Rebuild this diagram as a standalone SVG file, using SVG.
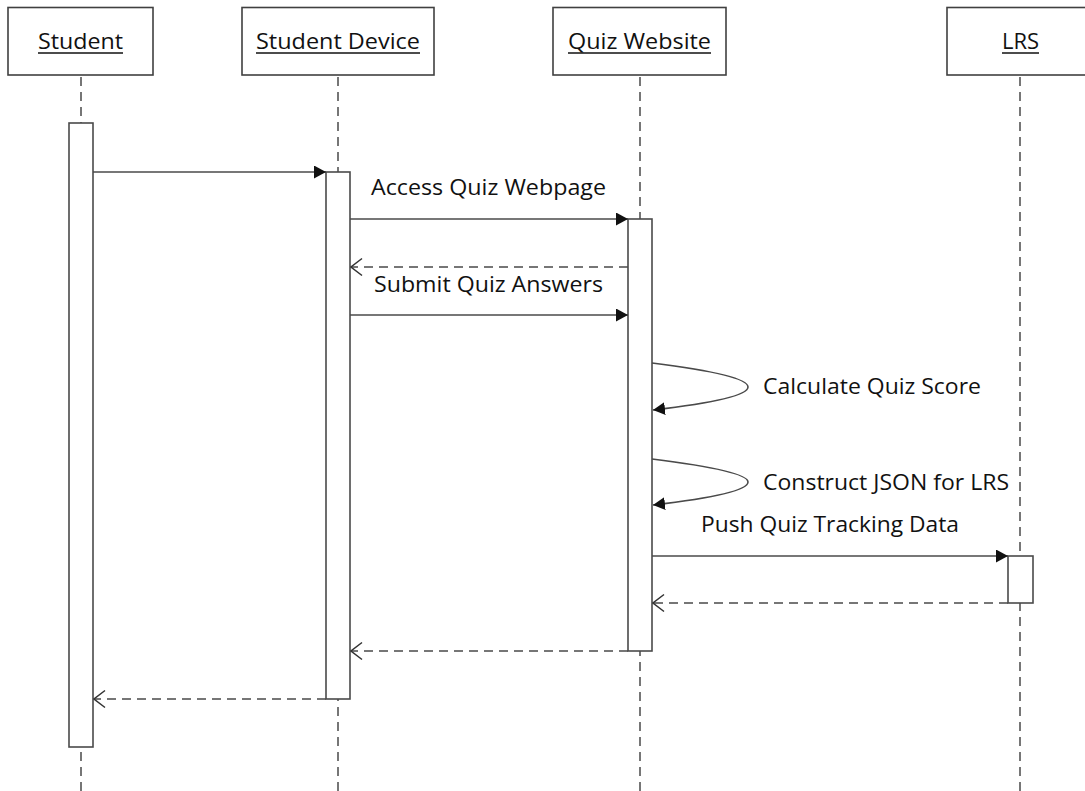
<svg xmlns="http://www.w3.org/2000/svg" width="1085" height="791" viewBox="0 0 1085 791">
  <style>
    .box { fill: #ffffff; stroke: #404040; stroke-width: 1.6; }
    .life { stroke: #4a4a4a; stroke-width: 1.5; stroke-dasharray: 9 6; fill: none; }
    .act { fill: #ffffff; stroke: #4a4a4a; stroke-width: 1.6; }
    .msg { stroke: #4a4a4a; stroke-width: 1.6; fill: none; }
    .ret { stroke: #4a4a4a; stroke-width: 1.6; fill: none; stroke-dasharray: 9 6; }
    .lbl { font-family: "Open Sans", "Liberation Sans", sans-serif; font-size: 22px; fill: #111111; }
    .ul { stroke: #111111; stroke-width: 1.5; }
  </style>
  <defs>
    <marker id="solid" viewBox="0 0 12 13" refX="12" refY="6.5" markerWidth="12" markerHeight="13" markerUnits="userSpaceOnUse" orient="auto">
      <path d="M0,0 L12,6.5 L0,13 Z" fill="#111111"/>
    </marker>
    <marker id="open" viewBox="0 0 13 20" refX="12" refY="10" markerWidth="13" markerHeight="20" markerUnits="userSpaceOnUse" orient="auto">
      <path d="M1,1.5 L12,10 L1,18.5" fill="none" stroke="#333333" stroke-width="1.5"/>
    </marker>
  </defs>
  <rect width="1085" height="791" fill="#ffffff"/>

  <!-- lifelines -->
  <g id="lifelines">
    <line class="life" x1="81" y1="77" x2="81" y2="791"/>
    <line class="life" x1="338" y1="77" x2="338" y2="791"/>
    <line class="life" x1="640" y1="77" x2="640" y2="791"/>
    <line class="life" x1="1020" y1="77" x2="1020" y2="791"/>
  </g>

  <!-- participants -->
  <g id="student">
    <rect class="box" x="8" y="7.5" width="145" height="67.5"/>
    <text class="lbl" x="38" y="49" textLength="85" lengthAdjust="spacingAndGlyphs">Student</text>
    <line class="ul" x1="38" y1="53" x2="123" y2="53"/>
    <rect class="act" x="69" y="123" width="24" height="624"/>
  </g>
  <g id="student-device">
    <rect class="box" x="242" y="7.5" width="192" height="67.5"/>
    <text class="lbl" x="256" y="49" textLength="164" lengthAdjust="spacingAndGlyphs">Student Device</text>
    <line class="ul" x1="256" y1="53" x2="420" y2="53"/>
    <rect class="act" x="326" y="172" width="24" height="527"/>
  </g>
  <g id="quiz-website">
    <rect class="box" x="553" y="7.5" width="173" height="67.5"/>
    <text class="lbl" x="568" y="49" textLength="143" lengthAdjust="spacingAndGlyphs">Quiz Website</text>
    <line class="ul" x1="568" y1="53" x2="711" y2="53"/>
    <rect class="act" x="628" y="219" width="24" height="432"/>
  </g>
  <g id="lrs">
    <rect class="box" x="947" y="7.5" width="146" height="67.5"/>
    <text class="lbl" x="1002" y="49" textLength="37" lengthAdjust="spacingAndGlyphs">LRS</text>
    <line class="ul" x1="1002" y1="53" x2="1039" y2="53"/>
    <rect class="act" x="1008" y="556" width="25" height="47"/>
  </g>

  <!-- messages -->
  <g id="connectors">
    <line class="msg" x1="93" y1="172" x2="326" y2="172" marker-end="url(#solid)"/>
    <line class="msg" x1="350" y1="219" x2="628" y2="219" marker-end="url(#solid)"/>
    <line class="ret" x1="628" y1="267" x2="351" y2="267" marker-end="url(#open)"/>
    <line class="msg" x1="350" y1="315" x2="628" y2="315" marker-end="url(#solid)"/>
    <path class="msg" d="M652,363 Q748,375 748,387 Q748,399 653,410" marker-end="url(#solid)"/>
    <path class="msg" d="M652,459 Q748,471 748,482 Q748,494 653,505" marker-end="url(#solid)"/>
    <line class="msg" x1="652" y1="556" x2="1008" y2="556" marker-end="url(#solid)"/>
    <line class="ret" x1="1008" y1="603" x2="653" y2="603" marker-end="url(#open)"/>
    <line class="ret" x1="628" y1="651" x2="351" y2="651" marker-end="url(#open)"/>
    <line class="ret" x1="326" y1="699" x2="94" y2="699" marker-end="url(#open)"/>
  </g>

  <!-- message labels -->
  <g id="labels">
    <text class="lbl" x="371" y="195" textLength="235" lengthAdjust="spacingAndGlyphs">Access Quiz Webpage</text>
    <text class="lbl" x="374" y="292" textLength="229" lengthAdjust="spacingAndGlyphs">Submit Quiz Answers</text>
    <text class="lbl" x="763" y="394" textLength="218" lengthAdjust="spacingAndGlyphs">Calculate Quiz Score</text>
    <text class="lbl" x="763" y="490" textLength="246" lengthAdjust="spacingAndGlyphs">Construct JSON for LRS</text>
    <text class="lbl" x="701" y="532" textLength="258" lengthAdjust="spacingAndGlyphs">Push Quiz Tracking Data</text>
  </g>
</svg>
